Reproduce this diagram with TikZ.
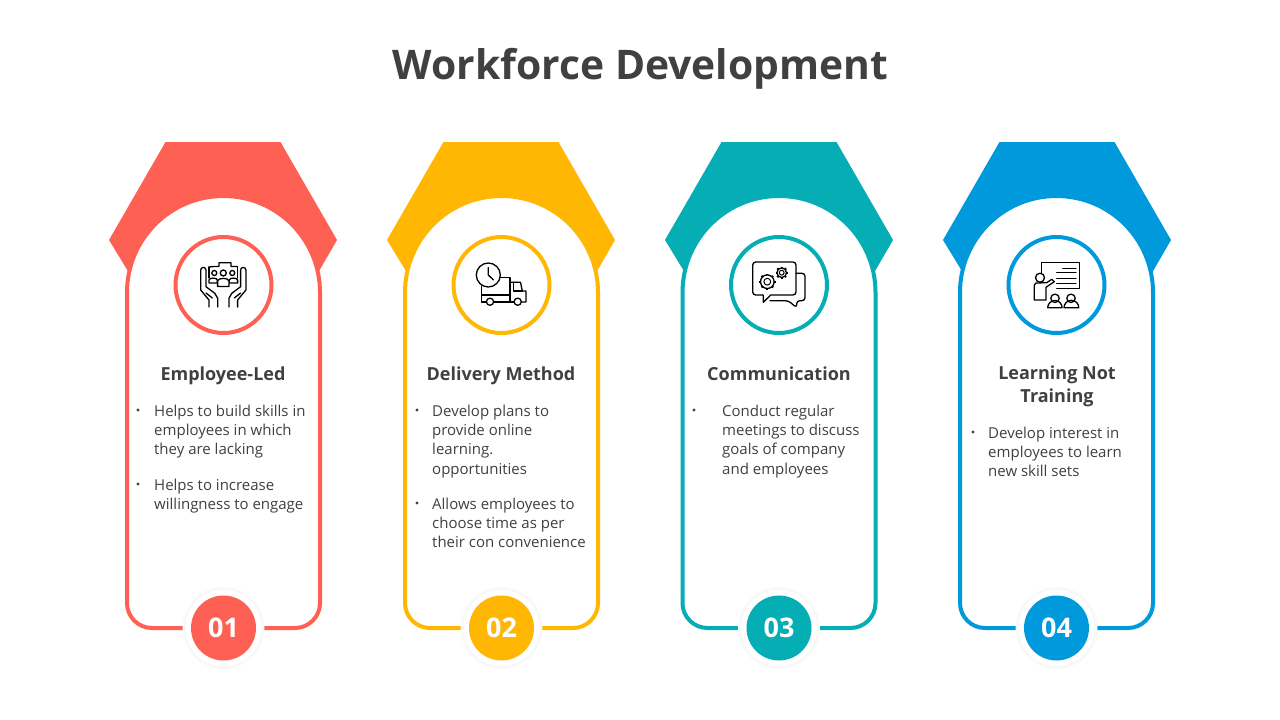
\documentclass[tikz,border=0pt]{standalone}
\usepackage{fontspec}
\setmainfont{Open Sans}
\usetikzlibrary{calc}

\definecolor{cardred}{HTML}{FF6054}
\definecolor{cardyellow}{HTML}{FFB703}
\definecolor{cardteal}{HTML}{05ADB5}
\definecolor{cardblue}{HTML}{0099DB}
\definecolor{inktext}{HTML}{404040}

\tikzset{
    titletext/.style={font=\bfseries\fontsize{40.8}{46}\selectfont,text=inktext,inner sep=0pt,anchor=base},
    headtext/.style={font=\bfseries\fontsize{18}{23}\selectfont,text=inktext,inner sep=0pt,align=center,text height=14pt,text depth=4pt},
    bodytext/.style={font=\fontsize{15}{19.3}\selectfont,text=inktext,inner sep=0pt,align=left,anchor=north west},
    dotnode/.style={circle,fill=inktext,inner sep=0pt,minimum size=3.4pt},
    numtext/.style={font=\bfseries\fontsize{27}{30}\selectfont,text=white,circle,inner sep=0pt,minimum size=65pt},
    iconline/.style={draw=black,line width=1.3pt,line join=round,line cap=round}
}

\begin{document}
\begin{tikzpicture}[x=1pt,y=-1pt]
    \useasboundingbox (0,0) rectangle (1280,720);
    \fill[white] (0,0) rectangle (1280,720);

    \node[titletext] (title) at (640.5,79) {Workforce Development};

    % cards
    \foreach \cx/\hx/\col/\num in {223.5/0/cardred/01,501.5/0/cardyellow/02,779/0.5/cardteal/03,1056.5/1/cardblue/04} {
        \begin{scope}[shift={(\cx,0)}]
            \begin{scope}[xshift=\hx pt]
                \fill[\col] (-58,142) -- (57,142) -- (113.5,240) -- (95,272) -- (-95,272) -- (-114.5,240) -- cycle;
            \end{scope}
            \draw[\col,fill=white,line width=4pt] (-96.5,292.5) arc[start angle=180,end angle=360,radius=96.5]
                -- (96.5,603) arc[start angle=0,end angle=90,radius=25]
                -- (-71.5,628) arc[start angle=90,end angle=180,radius=25] -- cycle;
            \node[circle,draw=\col,line width=4pt,fill=white,minimum size=96pt,inner sep=0pt] (ring\num) at (0,285) {};
            \fill[black!2] (0,628) circle (41);
            \fill[black!3] (0,628) circle (39.5);
            \fill[white] (0,628) circle (38.2);
            \node[numtext,fill=\col] (num\num) at (0,628) {\num};
        \end{scope}
    }

    % headings
    \node[headtext] (head1) at (223,375) {Employee-Led};
    \node[headtext] (head2) at (501,375) {Delivery Method};
    \node[headtext] (head3) at (779,375) {Communication};
    \node[headtext] (head4) at (1057,397) {Learning Not\\Training};

    % bullets
    \node[dotnode] (dot1a) at (138,410) {};
    \node[bodytext] (body1a) at (154,404.5) {Helps to build skills in\\employees in which\\they are lacking};
    \node[dotnode] (dot1b) at (138,484) {};
    \node[bodytext] (body1b) at (154,478.5) {Helps to increase\\willingness to engage};

    \node[dotnode] (dot2a) at (417,410) {};
    \node[bodytext] (body2a) at (432,404.5) {Develop plans to\\provide online\\learning.\\opportunities};
    \node[dotnode] (dot2b) at (417,503) {};
    \node[bodytext] (body2b) at (432,497.5) {Allows employees to\\choose time as per\\their con convenience};

    \node[dotnode] (dot3a) at (694,410) {};
    \node[bodytext] (body3a) at (722,404.5) {Conduct regular\\meetings to discuss\\goals of company\\and employees};

    \node[dotnode] (dot4a) at (973,432) {};
    \node[bodytext] (body4a) at (988,426.5) {Develop interest in\\employees to learn\\new skill sets};

    % icon 1, hands and people
    \foreach \side in {1,-1} {
        \begin{scope}[shift={(223.3,0)},xscale=\side]
            \draw[iconline] (-14.3,307) -- (-14.3,300) -- (-22.6,290) -- (-22.6,270)
                arc[start angle=180,end angle=360,radius=2.65] -- (-17.3,286.7)
                -- (-8.5,293.3) -- (-5.6,298.3) -- (-5.6,307);
            \draw[iconline] (-14.3,267) -- (-14.3,278);
            \draw[iconline] (-17.3,293) -- (-11,298);
            \draw[iconline] (-9,273) circle (2.5);
            \draw[iconline] (-14.3,283) -- (-14.3,280) .. controls (-14.3,277.5) and (-6,277.5) .. (-6,280) -- (-6,283) -- cycle;
        \end{scope}
    }
    \draw[iconline] (209,267) -- (214,266.5) -- (219,266.5) -- (219,262.7) -- (231,262.7) -- (231,266.5) -- (237.6,266.5);
    \draw[iconline,fill=white] (223.3,273) circle (3);
    \draw[iconline,fill=white] (217.6,286.5) -- (217.6,281) .. controls (217.6,277.5) and (229,277.5) .. (229,281) -- (229,286.5) -- cycle;

    % icon 2, truck and clock
    \draw[iconline] (481.5,286) -- (481.5,302) -- (486,302);
    \draw[iconline] (494,302) -- (513.5,302);
    \draw[iconline] (521.5,302) -- (526,302) -- (526,291) -- (522.3,291) -- (520.5,282.3) -- (510,282.3);
    \draw[iconline] (500,277.3) -- (510,277.3) -- (510,302);
    \draw[iconline] (481.5,295) -- (510,295);
    \draw[iconline] (513.5,282.3) -- (513.5,291) -- (522.3,291);
    \draw[iconline] (490,301.7) circle (3.6);
    \draw[iconline] (517.7,301.7) circle (3.6);
    \draw[iconline,fill=white] (488.3,275) circle (12);
    \draw[iconline] (488.3,267.5) -- (488.3,275) -- (493.5,280);

    % icon 3, speech bubbles and gears
    \draw[iconline,rounded corners=3pt] (770,300.7) -- (788.3,300.7) -- (796.7,307.7) -- (796.7,300.7) -- (805,300.7) -- (805,273.3) -- (796,273.3);
    \draw[iconline] (763.3,295) -- (763.3,302.3) -- (770.7,295) -- (793,295)
        arc[start angle=90,end angle=0,radius=3] -- (796,265)
        arc[start angle=0,end angle=-90,radius=3] -- (755.7,262)
        arc[start angle=-90,end angle=-180,radius=3] -- (752.7,292)
        arc[start angle=180,end angle=90,radius=3] -- cycle;
    \foreach \gx/\gy/\gr in {767.3/281.7/6.8,781.7/272.7/4.8} {
        \draw[iconline] (\gx,\gy) circle (\gr);
        \draw[iconline,line width=1pt] (\gx,\gy) circle (\gr/2);
        \foreach \ang in {0,45,...,315}
            \draw[line width=2pt,black] ($(\gx,\gy)+(\ang:\gr)$) -- ($(\gx,\gy)+(\ang:\gr+1.4)$);
    }

    % icon 4, teacher at a board
    \draw[iconline] (1041.7,273) -- (1041.7,262.3) -- (1079.3,262.3) -- (1079.3,288.3) -- (1056.7,288.3);
    \draw[iconline] (1062.7,268.3) -- (1076,268.3);
    \draw[iconline] (1056.7,272.7) -- (1076,272.7);
    \draw[iconline] (1056.7,278.3) -- (1076,278.3);
    \draw[iconline] (1056.7,283.3) -- (1076,283.3);
    \draw[iconline] (1040,277.7) circle (4.5);
    \draw[iconline] (1034.3,300) -- (1034.3,285) -- (1036,283) -- (1046.7,282.7) -- (1051.7,279.3) -- (1054.3,281.7) -- (1046,287.3) -- (1046,300) -- cycle;
    \draw[iconline] (1055,298.3) circle (4.2);
    \draw[iconline] (1047.7,307.7) arc[start angle=180,end angle=360,radius=7.2] -- cycle;
    \draw[iconline] (1071,298.3) circle (4.2);
    \draw[iconline] (1064,307.7) arc[start angle=180,end angle=360,radius=7.4] -- cycle;
\end{tikzpicture}
\end{document}
